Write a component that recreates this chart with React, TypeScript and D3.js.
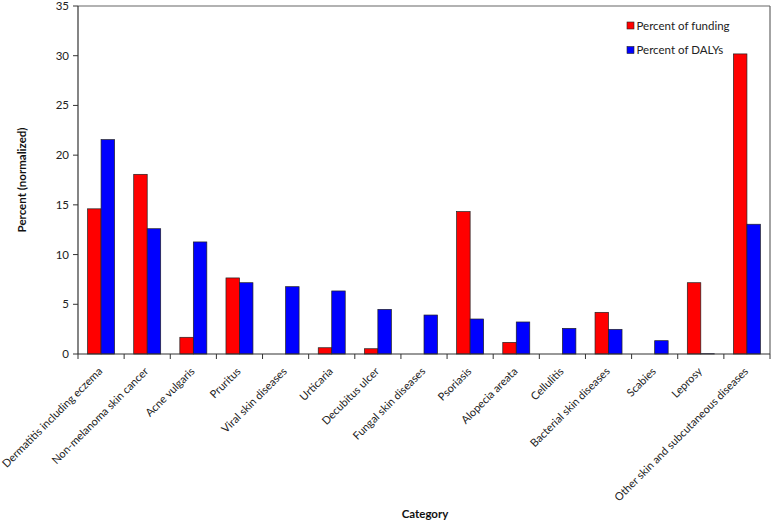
import React from "react";
import * as d3 from "d3";

const categories = [
  "Dermatitis including eczema",
  "Non-melanoma skin cancer",
  "Acne vulgaris",
  "Pruritus",
  "Viral skin diseases",
  "Urticaria",
  "Decubitus ulcer",
  "Fungal skin diseases",
  "Psoriasis",
  "Alopecia areata",
  "Cellulitis",
  "Bacterial skin diseases",
  "Scabies",
  "Leprosy",
  "Other skin and subcutaneous diseases",
];
const funding = [14.6, 18.07, 1.68, 7.65, 0, 0.63, 0.53, 0, 14.32, 1.17, 0, 4.19, 0, 7.17, 30.18];
const dalys = [21.56, 12.6, 11.27, 7.17, 6.77, 6.34, 4.49, 3.92, 3.52, 3.22, 2.58, 2.48, 1.34, 0.03, 13.05];
const seriesNames = ["Percent of funding", "Percent of DALYs"];
const seriesColors = ["#ff0000", "#0000ff"];
const yTicks = [0, 5, 10, 15, 20, 25, 30, 35];

const W = 775;
const H = 524;
const M = { left: 78, right: 5, top: 6, bottom: 170 };
const FONT = "Lato, 'Open Sans', sans-serif";

export default function App() {
  const x0 = d3.scaleBand<string>().domain(categories).range([M.left, W - M.right]).paddingInner(0).paddingOuter(0);
  const x1 = d3.scaleBand<string>().domain(["0", "1"]).range([0, x0.bandwidth()]).paddingInner(0).paddingOuter(0.71);
  const y = d3.scaleLinear().domain([0, 35]).range([H - M.bottom, M.top]);
  const y0 = y(0);
  const series = [funding, dalys];

  return (
    <svg width={W} height={H} style={{ position: "absolute", left: 0, top: 0, fontFamily: FONT }}>
      <rect x={0} y={0} width={W} height={H} fill="#fff" />
      {/* frame */}
      <line x1={M.left} x2={W - M.right} y1={M.top} y2={M.top} stroke="#666" strokeWidth={1.2} />
      <line x1={W - M.right} x2={W - M.right} y1={M.top} y2={y0} stroke="#666" strokeWidth={1.2} />
      {/* bars */}
      {categories.map((c, i) => (
        <g key={c}>
          {series.map((s, j) =>
            s[i] > 0 ? (
              <rect
                key={j}
                x={(x0(c) as number) + (x1(String(j)) as number)}
                y={y(s[i])}
                width={x1.bandwidth()}
                height={y0 - y(s[i])}
                fill={seriesColors[j]}
                stroke="#222"
                strokeWidth={0.7}
              />
            ) : null
          )}
        </g>
      ))}
      {/* y axis */}
      <line x1={M.left} x2={M.left} y1={M.top} y2={y0} stroke="#333" strokeWidth={1.2} />
      {yTicks.map((t) => (
        <g key={t}>
          <line x1={M.left - 5} x2={M.left} y1={y(t)} y2={y(t)} stroke="#333" strokeWidth={1} />
          <text x={M.left - 9} y={y(t)} dy="0.35em" textAnchor="end" fontSize={11.5} fill="#222">
            {t}
          </text>
        </g>
      ))}
      {/* x axis */}
      <line x1={M.left} x2={W - M.right} y1={y0} y2={y0} stroke="#333" strokeWidth={1.2} />
      {categories.map((c, i) => (
        <line key={"t" + i} x1={x0(c) as number} x2={x0(c) as number} y1={y0} y2={y0 + 5} stroke="#333" strokeWidth={1} />
      ))}
      <line x1={W - M.right} x2={W - M.right} y1={y0} y2={y0 + 5} stroke="#333" strokeWidth={1} />
      {categories.map((c) => {
        const cx = (x0(c) as number) + x0.bandwidth() / 2 + 2;
        const cy = y0 + 18;
        return (
          <text key={"l" + c} x={cx} y={cy} textAnchor="end" fontSize={11} fill="#222" transform={`rotate(-45 ${cx} ${cy})`}>
            {c}
          </text>
        );
      })}
      {/* axis titles */}
      <text transform={`translate(26 ${(M.top + y0) / 2}) rotate(-90)`} textAnchor="middle" fontSize={11.5} fontWeight="bold" fill="#111">
        Percent (normalized)
      </text>
      <text x={425} y={518} textAnchor="middle" fontSize={11.5} fontWeight="bold" fill="#111">
        Category
      </text>
      {/* legend */}
      {seriesNames.map((n, j) => (
        <g key={n} transform={`translate(627 ${22 + j * 24.5})`}>
          <rect x={0} y={0} width={7} height={7} fill={seriesColors[j]} stroke="#222" strokeWidth={0.6} />
          <text x={9.5} y={7.5} fontSize={11.5} fill="#222">
            {n}
          </text>
        </g>
      ))}
    </svg>
  );
}
